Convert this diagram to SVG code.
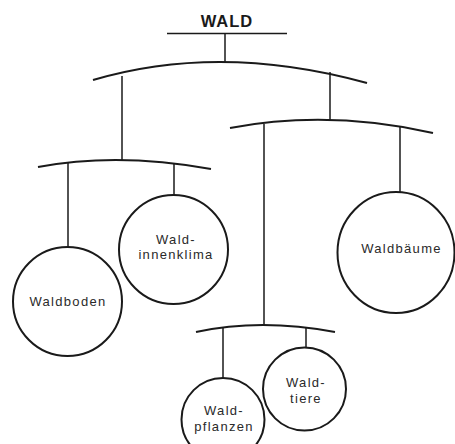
<svg xmlns="http://www.w3.org/2000/svg" width="455" height="444" viewBox="0 0 455 444">
<style>
.arc{fill:none;stroke:#1a1a1a;stroke-width:2}
.ln{fill:none;stroke:#1a1a1a;stroke-width:1.5}
.nd{fill:#fff;stroke:#1a1a1a;stroke-width:2}
.t{font-family:"Liberation Sans",Arial,sans-serif;font-size:13px;letter-spacing:1.3px;fill:#2a2a2a;text-anchor:middle}
.title{font-family:"Liberation Sans",Arial,sans-serif;font-size:16.5px;font-weight:bold;letter-spacing:1px;fill:#1a1a1a;text-anchor:middle}
</style>
<rect width="455" height="444" fill="#fff"/>
<g id="connectors">
<line class="ln" x1="167" y1="33.5" x2="287" y2="33.5" stroke="#333"/>
<line class="ln" x1="225" y1="33" x2="225" y2="63"/>
<path class="arc" d="M93,80 Q220,42.5 367,83"/>
<line class="ln" x1="122" y1="76" x2="122" y2="160" stroke="#555" stroke-width="1.2"/>
<line class="ln" x1="330" y1="72" x2="330" y2="120"/>
<path class="arc" d="M230,128 Q328.5,109.5 433,133"/>
<path class="arc" d="M38,167 Q117.5,152 211,169"/>
<line class="ln" x1="68" y1="163" x2="68" y2="247"/>
<line class="ln" x1="174" y1="164" x2="174" y2="195"/>
<line class="ln" x1="264" y1="124" x2="264" y2="325" stroke-width="1.3"/>
<line class="ln" x1="400" y1="126" x2="400" y2="192"/>
<path class="arc" d="M196,332 Q260.5,318 335,332"/>
<line class="ln" x1="223" y1="327" x2="223" y2="378"/>
<line class="ln" x1="306" y1="327" x2="306" y2="348"/>
</g>
<g id="wald">
<text class="title" x="227" y="27">WALD</text>
</g>
<g id="waldboden">
<circle class="nd" cx="67.5" cy="301.5" r="54.5"/>
<text class="t" x="68" y="306">Waldboden</text>
</g>
<g id="waldinnenklima">
<circle class="nd" cx="173.5" cy="249.5" r="54.5"/>
<text class="t" x="176" y="244">Wald-</text>
<text class="t" x="176" y="259">innenklima</text>
</g>
<g id="waldbaeume">
<ellipse class="nd" cx="396" cy="252.5" rx="58.5" ry="60.5"/>
<text class="t" x="401.5" y="253">Waldbäume</text>
</g>
<g id="waldtiere">
<circle class="nd" cx="304.5" cy="389" r="41.5"/>
<text class="t" x="306" y="387">Wald-</text>
<text class="t" x="306" y="403">tiere</text>
</g>
<g id="waldpflanzen">
<circle class="nd" cx="223" cy="419.5" r="41.5"/>
<text class="t" x="224" y="415">Wald-</text>
<text class="t" x="224" y="431">pflanzen</text>
</g>
</svg>
